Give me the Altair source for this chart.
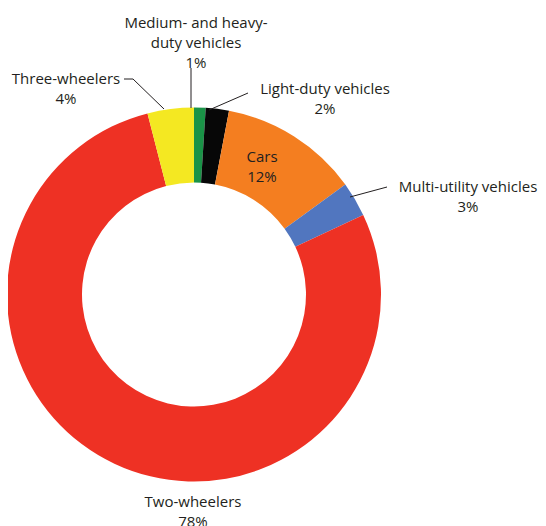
import altair as alt
import pandas as pd

# ---- data ----
categories = ["Medium- and heavy-duty vehicles", "Light-duty vehicles", "Cars",
              "Multi-utility vehicles", "Two-wheelers", "Three-wheelers"]
shares = [1, 2, 12, 3, 78, 4]
colors = ["#1a9347", "#070707", "#f47e20", "#5176bf", "#ee3124", "#f4e822"]
label_texts = ["Medium- and heavy-\nduty vehicles\n1%", "Light-duty vehicles\n2%", "Cars\n12%",
               "Multi-utility vehicles\n3%", "Two-wheelers\n78%", "Three-wheelers\n4%"]

# ---- layout (page pixels; page margin is 8) ----
M = 8
W, H = 530, 540
CX, CY = 194 - M, 294.5 - M
R_OUT, R_IN = 187, 112
FONT = "Open Sans"
label_pos = [(196, 28), (325, 94), (262, 162), (468, 192), (193, 507), (66, 84)]
leaders = [  # x, y, x2, y2
    (191, 68, 191, 108),
    (248, 93, 209, 110),
    (387, 187, 350, 197),
    (124, 79, 133, 79),
    (133, 79, 164, 109),
]

df = pd.DataFrame({"category": categories, "share": shares, "order": list(range(len(shares)))})

arcs = alt.Chart(df).mark_arc(radius=R_OUT, radius2=R_IN).encode(
    theta=alt.Theta("share:Q", stack=True),
    order=alt.Order("order:Q"),
    color=alt.Color("category:N", scale=alt.Scale(domain=categories, range=colors), legend=None),
    x=alt.value(CX),
    y=alt.value(CY),
)

lab_df = pd.DataFrame({
    "text": label_texts,
    "px": [p[0] - M for p in label_pos],
    "py": [p[1] - M for p in label_pos],
})
labels = alt.Chart(lab_df).mark_text(
    font=FONT, fontSize=15, color="#231f20", align="center", baseline="alphabetic",
    lineBreak="\n", lineHeight=20,
).encode(
    x=alt.X("px:Q", scale=None, axis=None),
    y=alt.Y("py:Q", scale=None, axis=None),
    text="text:N",
)

lead_df = pd.DataFrame({
    "x": [l[0] - M for l in leaders], "y": [l[1] - M for l in leaders],
    "x2": [l[2] - M for l in leaders], "y2": [l[3] - M for l in leaders],
})
lines = alt.Chart(lead_df).mark_rule(color="#231f20", strokeWidth=1).encode(
    x=alt.X("x:Q", scale=None, axis=None), y=alt.Y("y:Q", scale=None, axis=None),
    x2="x2:Q", y2="y2:Q",
)

chart = alt.layer(arcs, lines, labels).properties(
    width=W, height=H,
    autosize=alt.AutoSizeParams(type="none"),
    padding=0,
    background="white",
).configure_view(stroke=None)

chart.save("out.html", embed_options={"renderer": "svg", "actions": False})
